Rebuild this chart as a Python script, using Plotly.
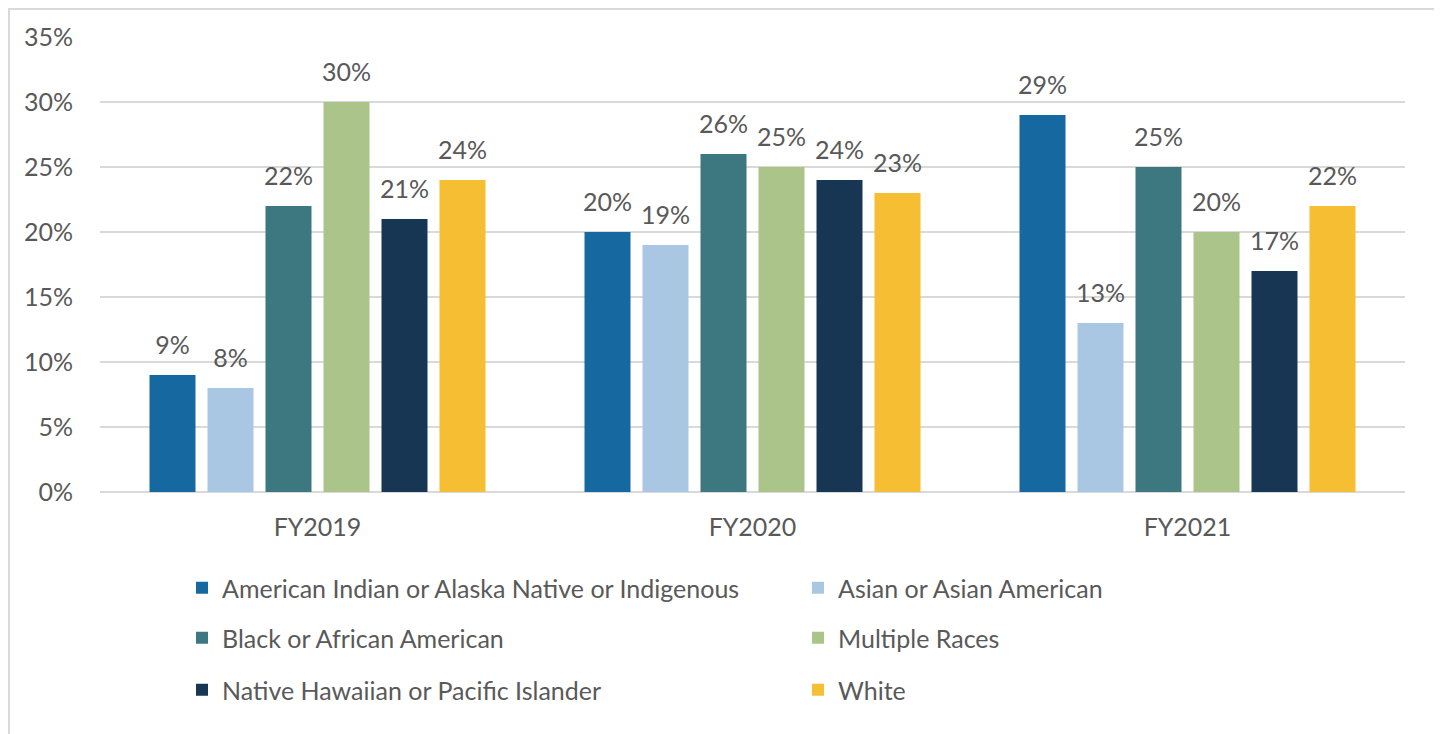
import plotly.graph_objects as go

categories = ["FY2019", "FY2020", "FY2021"]
series_names = [
    "American Indian or Alaska Native or Indigenous",
    "Asian or Asian American",
    "Black or African American",
    "Multiple Races",
    "Native Hawaiian or Pacific Islander",
    "White",
]
american_indian = [9, 20, 29]
asian = [8, 19, 13]
black = [22, 26, 25]
multiple = [30, 25, 20]
native_hawaiian = [21, 24, 17]
white = [24, 23, 22]
values = [american_indian, asian, black, multiple, native_hawaiian, white]
colors = ["#1569A0", "#A9C6E3", "#3D7780", "#ABC48A", "#163654", "#F6BE33"]
legend_ids = ["legend", "legend", "legend2", "legend2", "legend3", "legend3"]

FONT = "Lato, 'Open Sans', sans-serif"
TXT = "#595959"
FS = 25

# page has an 8px body margin; figure sized to fit the 1442x734 window
OFF = 8
W, H = 1442 - OFF, 734 - OFF
ML, MR, MT, MB = 100 - OFF, 37, 37 - OFF, 242
PW, PH = W - ML - MR, H - MT - MB

def page_y(p):
    return (MT + PH - (p - OFF)) / PH

def page_x(p):
    return ((p - OFF) - ML) / PW

fig = go.Figure()
for name, vals, col, lg in zip(series_names, values, colors, legend_ids):
    fig.add_trace(go.Bar(
        x=categories, y=vals, name=name, legend=lg,
        marker=dict(color=col, line=dict(width=0)),
        offsetgroup=name,
    ))
for name, vals in zip(series_names, values):
    fig.add_trace(go.Scatter(
        x=categories, y=vals, mode="markers+text",
        text=[f"{v}%" for v in vals], textposition="top center",
        textfont=dict(family=FONT, size=FS, color=TXT),
        marker=dict(size=22, opacity=0),
        showlegend=False, hoverinfo="skip", cliponaxis=False,
        offsetgroup=name,
    ))

legend_common = dict(
    orientation="h", xanchor="left", yanchor="middle",
    font=dict(family=FONT, size=FS, color=TXT),
    entrywidth=571, entrywidthmode="pixels",
    bgcolor="rgba(0,0,0,0)", itemclick=False,
)
fig.update_layout(
    width=W, height=H,
    margin=dict(l=ML, r=MR, t=MT, b=MB),
    paper_bgcolor="white", plot_bgcolor="white",
    barmode="group", bargap=0.2, bargroupgap=0.207,
    scattermode="group", scattergap=0.2,
    font=dict(family=FONT, size=FS, color=TXT),
    showlegend=True,
    legend=dict(x=page_x(182), y=page_y(588), **legend_common),
    legend2=dict(x=page_x(182), y=page_y(638), **legend_common),
    legend3=dict(x=page_x(182), y=page_y(690), **legend_common),
    yaxis=dict(
        range=[0, 35], dtick=5, ticksuffix="%",
        showgrid=True, gridcolor="#D9D9D9", gridwidth=1.5,
        zeroline=True, zerolinecolor="#D9D9D9", zerolinewidth=1.5,
        showline=False, ticks="", ticklabelstandoff=26,
        tickfont=dict(family=FONT, size=FS, color=TXT),
    ),
    xaxis=dict(
        showline=False, ticks="", ticklabelstandoff=18,
        tickfont=dict(family=FONT, size=FS, color=TXT),
    ),
    shapes=[dict(
        type="rect", xref="paper", yref="paper",
        x0=page_x(9), x1=page_x(1438),
        y0=page_y(760), y1=page_y(9),
        line=dict(color="#D9D9D9", width=2), fillcolor="rgba(0,0,0,0)",
        layer="below",
    )],
)

fig.write_html("out.html")
